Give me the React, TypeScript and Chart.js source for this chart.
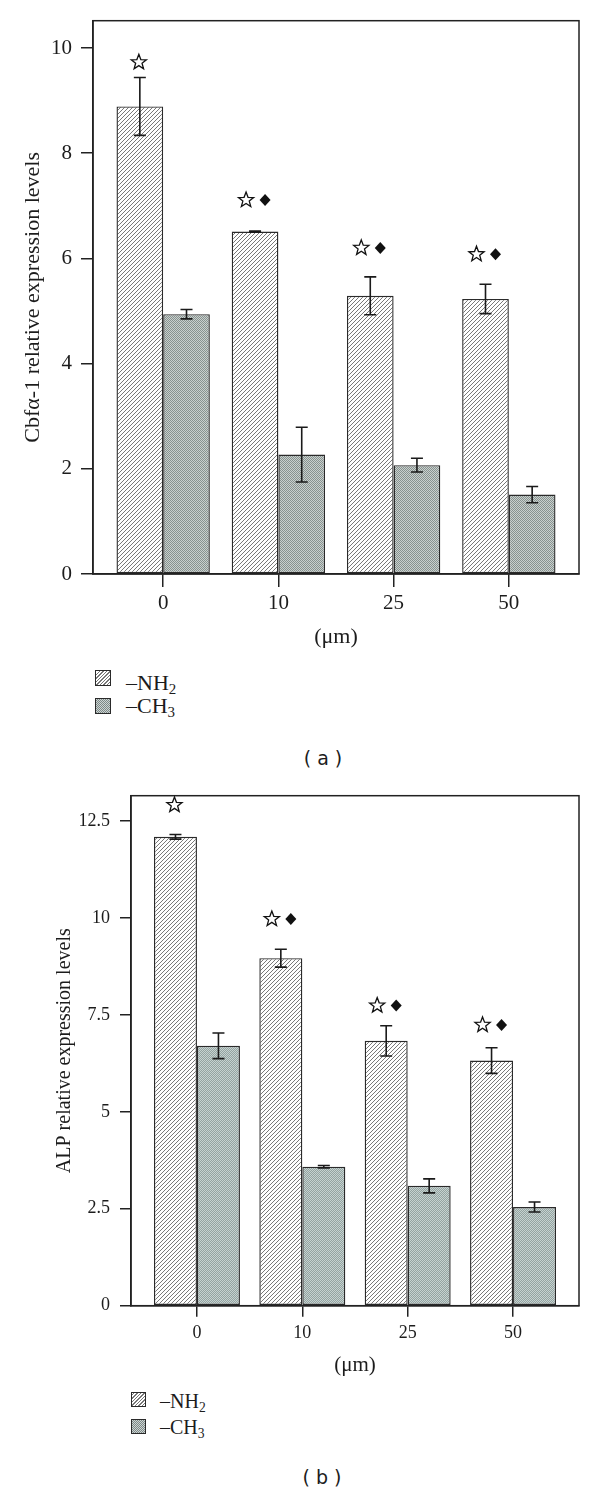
import React, { useEffect, useRef } from 'react';
import { Chart, registerables } from 'chart.js';

Chart.register(...registerables);

// ---------- data ----------
const doses = ['0', '10', '25', '50'];

const cbfNH2 = [8.89, 6.51, 5.29, 5.23];
const cbfNH2Err = [0.55, 0.01, 0.36, 0.28];
const cbfCH3 = [4.94, 2.27, 2.07, 1.51];
const cbfCH3Err = [0.09, 0.52, 0.13, 0.155];
const cbfMarkY = [9.73, 7.11, 6.2, 6.08];
const cbfMarkDiamond = [false, true, true, true];
const cbfYTicks = [0, 2, 4, 6, 8, 10];

const alpNH2 = [12.09, 8.96, 6.83, 6.32];
const alpNH2Err = [0.06, 0.23, 0.39, 0.33];
const alpCH3 = [6.7, 3.585, 3.09, 2.545];
const alpCH3Err = [0.33, 0.03, 0.18, 0.13];
const alpMarkY = [12.91, 9.97, 7.74, 7.24];
const alpMarkDiamond = [false, true, true, true];
const alpYTicks = [0, 2.5, 5, 7.5, 10, 12.5];

const SERIF = '"Liberation Serif", "Times New Roman", serif';
const SANS = '"DejaVu Sans", Verdana, sans-serif';
const INK = '#1c1c1c';

// ---------- plugins ----------
const framePlugin = {
  id: 'frame',
  afterDatasetsDraw(chart: any) {
    const { ctx, chartArea: a } = chart;
    ctx.save();
    ctx.strokeStyle = '#222';
    ctx.lineWidth = 1.5;
    ctx.strokeRect(a.left, a.top, a.right - a.left, a.bottom - a.top);
    ctx.restore();
  },
};

const errorBarPlugin = {
  id: 'errorBars',
  afterDatasetsDraw(chart: any, _args: any, opts: any) {
    const { ctx } = chart;
    const y = chart.scales.y;
    ctx.save();
    ctx.strokeStyle = '#1a1a1a';
    ctx.lineWidth = 1.6;
    chart.data.datasets.forEach((ds: any, di: number) => {
      const meta = chart.getDatasetMeta(di);
      const errs = opts.errors[di];
      meta.data.forEach((bar: any, i: number) => {
        const v = ds.data[i].y;
        const e = errs[i];
        const x = bar.x;
        const yt = y.getPixelForValue(v + e);
        const yb = y.getPixelForValue(v - e);
        const h = opts.capHalf;
        ctx.beginPath();
        ctx.moveTo(x, yt);
        ctx.lineTo(x, yb);
        ctx.moveTo(x - h, yt);
        ctx.lineTo(x + h, yt);
        ctx.moveTo(x - h, yb);
        ctx.lineTo(x + h, yb);
        ctx.stroke();
      });
    });
    ctx.restore();
  },
};

function drawStar(ctx: CanvasRenderingContext2D, cx: number, cy: number, r: number) {
  const inner = r * 0.42;
  ctx.beginPath();
  for (let k = 0; k < 10; k++) {
    const rad = k % 2 === 0 ? r : inner;
    const ang = -Math.PI / 2 + (k * Math.PI) / 5;
    const px = cx + rad * Math.cos(ang);
    const py = cy + rad * Math.sin(ang);
    if (k === 0) ctx.moveTo(px, py);
    else ctx.lineTo(px, py);
  }
  ctx.closePath();
  ctx.fillStyle = '#ffffff';
  ctx.fill();
  ctx.strokeStyle = '#111';
  ctx.lineWidth = 1.3;
  ctx.lineJoin = 'miter';
  ctx.stroke();
}

function drawDiamond(ctx: CanvasRenderingContext2D, cx: number, cy: number, hw: number, hh: number) {
  ctx.beginPath();
  ctx.moveTo(cx, cy - hh);
  ctx.lineTo(cx + hw, cy);
  ctx.lineTo(cx, cy + hh);
  ctx.lineTo(cx - hw, cy);
  ctx.closePath();
  ctx.fillStyle = '#111';
  ctx.fill();
}

const markerPlugin = {
  id: 'markers',
  afterDatasetsDraw(chart: any, _args: any, opts: any) {
    const { ctx } = chart;
    const y = chart.scales.y;
    const meta = chart.getDatasetMeta(0);
    ctx.save();
    meta.data.forEach((bar: any, i: number) => {
      const py = y.getPixelForValue(opts.ys[i]);
      const cx = bar.x;
      if (opts.diamond[i]) {
        drawStar(ctx, cx - opts.gapLeft, py, opts.starR);
        drawDiamond(ctx, cx + opts.gapRight, py, opts.diaW, opts.diaH);
      } else {
        drawStar(ctx, cx - 1, py, opts.starR);
      }
    });
    ctx.restore();
  },
};

// ---------- patterns ----------
function hatchPattern(ctx: CanvasRenderingContext2D, s: number, color: string) {
  const c = document.createElement('canvas');
  c.width = s;
  c.height = s;
  const g = c.getContext('2d')!;
  g.fillStyle = '#ffffff';
  g.fillRect(0, 0, s, s);
  g.strokeStyle = color;
  g.lineWidth = 0.9;
  g.beginPath();
  g.moveTo(-1, s + 1);
  g.lineTo(s + 1, -1);
  g.moveTo(-1, 1);
  g.lineTo(1, -1);
  g.moveTo(s - 1, s + 1);
  g.lineTo(s + 1, s - 1);
  g.stroke();
  return ctx.createPattern(c, 'repeat')!;
}

function checkerPattern(ctx: CanvasRenderingContext2D, c1: string, c2: string) {
  const c = document.createElement('canvas');
  c.width = 2;
  c.height = 2;
  const g = c.getContext('2d')!;
  g.fillStyle = c2;
  g.fillRect(0, 0, 2, 2);
  g.fillStyle = c1;
  g.fillRect(0, 0, 1, 1);
  g.fillRect(1, 1, 1, 1);
  return ctx.createPattern(c, 'repeat')!;
}

// ---------- panel ----------
type PanelCfg = {
  nh2: number[];
  nh2Err: number[];
  ch3: number[];
  ch3Err: number[];
  markY: number[];
  markDiamond: boolean[];
  yTicks: number[];
  yMax: number;
  xPad: number;
  yTitle: string;
  top: number;
  height: number;
  padTop: number;
  padRight: number;
  yWidth: number;
  xHeight: number;
  tickFont: number;
  yTitleFont: number;
  xTitleFont: number;
  yTickLen: number;
  yTickPad: number;
  xTickLen: number;
  xTickPad: number;
  yTitlePad: number;
  xTitlePad: number;
  capHalf: number;
  catPct: number;
  ch3Colors: [string, string];
};

function BarPanel({ cfg }: { cfg: PanelCfg }) {
  const ref = useRef<HTMLCanvasElement | null>(null);

  useEffect(() => {
    const canvas = ref.current;
    if (!canvas) return;
    const ctx = canvas.getContext('2d')!;
    const hatch = hatchPattern(ctx, 4, '#6a6a6a');
    const checker = checkerPattern(ctx, cfg.ch3Colors[0], cfg.ch3Colors[1]);

    const chart = new Chart(canvas, {
      type: 'bar',
      data: {
        datasets: [
          {
            label: '–NH2',
            data: cfg.nh2.map((v, i) => ({ x: i, y: v })),
            backgroundColor: hatch,
            borderColor: '#2a2a2a',
            borderWidth: 1.4,
            borderSkipped: false,
            categoryPercentage: cfg.catPct,
            barPercentage: 1,
          },
          {
            label: '–CH3',
            data: cfg.ch3.map((v, i) => ({ x: i, y: v })),
            backgroundColor: checker,
            borderColor: '#2a2a2a',
            borderWidth: 1.4,
            borderSkipped: false,
            categoryPercentage: cfg.catPct,
            barPercentage: 1,
          },
        ],
      } as any,
      options: {
        responsive: false,
        maintainAspectRatio: false,
        animation: false,
        layout: { padding: { top: cfg.padTop, right: cfg.padRight, left: 0, bottom: 0 } },
        plugins: {
          legend: { display: false },
          tooltip: { enabled: false },
          errorBars: { errors: [cfg.nh2Err, cfg.ch3Err], capHalf: cfg.capHalf },
          markers: {
            ys: cfg.markY,
            diamond: cfg.markDiamond,
            starR: 8,
            diaW: 5.5,
            diaH: 6,
            gapLeft: 9,
            gapRight: 10,
          },
        } as any,
        scales: {
          x: {
            type: 'linear',
            min: -cfg.xPad,
            max: doses.length - 1 + cfg.xPad,
            offset: false,
            afterBuildTicks: (s: any) => {
              s.ticks = doses.map((_, i) => ({ value: i }));
            },
            afterFit: (s: any) => {
              s.height = cfg.xHeight;
              s.paddingLeft = 0;
              s.paddingRight = 0;
            },
            ticks: {
              autoSkip: false,
              maxRotation: 0,
              padding: cfg.xTickPad,
              color: INK,
              font: { family: SERIF, size: cfg.tickFont, lineHeight: 1 },
              callback: (v: any) => doses[v] ?? '',
            },
            grid: {
              offset: false,
              drawOnChartArea: false,
              drawTicks: true,
              tickLength: cfg.xTickLen,
              color: '#222',
              lineWidth: 1.5,
            },
            border: { display: true, color: '#222', width: 1.5 },
            title: {
              display: true,
              text: '(μm)',
              color: INK,
              font: { family: SERIF, size: cfg.xTitleFont, lineHeight: 1.2 },
              padding: { top: 0, bottom: cfg.xTitlePad },
            },
          },
          y: {
            type: 'linear',
            min: 0,
            max: cfg.yMax,
            afterBuildTicks: (s: any) => {
              s.ticks = cfg.yTicks.map((v) => ({ value: v }));
            },
            afterFit: (s: any) => {
              s.width = cfg.yWidth;
              s.paddingTop = 0;
              s.paddingBottom = 0;
            },
            ticks: {
              padding: cfg.yTickPad,
              color: INK,
              font: { family: SERIF, size: cfg.tickFont, lineHeight: 1 },
              callback: (v: any) => String(v),
            },
            grid: {
              drawOnChartArea: false,
              drawTicks: true,
              tickLength: cfg.yTickLen,
              color: '#222',
              lineWidth: 1.5,
            },
            border: { display: true, color: '#222', width: 1.5 },
            title: {
              display: true,
              text: cfg.yTitle,
              color: INK,
              font: { family: SERIF, size: cfg.yTitleFont, lineHeight: 1.2 },
              padding: { top: cfg.yTitlePad, bottom: 0 },
            },
          },
        },
      } as any,
      plugins: [framePlugin, errorBarPlugin, markerPlugin],
    });
    return () => chart.destroy();
  }, [cfg]);

  return (
    <canvas
      ref={ref}
      width={600}
      height={cfg.height}
      style={{ position: 'absolute', left: 0, top: cfg.top, width: 600, height: cfg.height }}
    />
  );
}

const panelA: PanelCfg = {
  nh2: cbfNH2,
  nh2Err: cbfNH2Err,
  ch3: cbfCH3,
  ch3Err: cbfCH3Err,
  markY: cbfMarkY,
  markDiamond: cbfMarkDiamond,
  yTicks: cbfYTicks,
  yMax: 10.52,
  xPad: 0.609,
  yTitle: 'Cbfα-1 relative expression levels',
  top: 0,
  height: 660,
  padTop: 20.7,
  padRight: 21,
  yWidth: 93,
  xHeight: 86,
  tickFont: 21,
  yTitleFont: 22,
  xTitleFont: 22,
  yTickLen: 12,
  yTickPad: 9,
  xTickLen: 13,
  xTickPad: 5.5,
  yTitlePad: 20,
  xTitlePad: 9.8,
  capHalf: 6,
  catPct: 0.81,
  ch3Colors: ['#87928f', '#c9d0ce'],
};

const panelB: PanelCfg = {
  nh2: alpNH2,
  nh2Err: alpNH2Err,
  ch3: alpCH3,
  ch3Err: alpCH3Err,
  markY: alpMarkY,
  markDiamond: alpMarkDiamond,
  yTicks: alpYTicks,
  yMax: 13.15,
  xPad: 0.626,
  yTitle: 'ALP relative expression levels',
  top: 775,
  height: 610,
  padTop: 20.7,
  padRight: 21,
  yWidth: 131,
  xHeight: 79.3,
  tickFont: 18,
  yTitleFont: 20,
  xTitleFont: 21,
  yTickLen: 11,
  yTickPad: 10,
  xTickLen: 11,
  xTickPad: 7.3,
  yTitlePad: 53,
  xTitlePad: 7.4,
  capHalf: 6,
  catPct: 0.816,
  ch3Colors: ['#93a3a1', '#c6d2d0'],
};

// ---------- legend & captions (HTML text) ----------
const hatchCss = 'repeating-linear-gradient(-45deg, #ffffff 0px, #ffffff 1.6px, #777 1.6px, #777 2.5px)';
const checkerCss = 'repeating-conic-gradient(#7c8886 0% 25%, #cdd4d3 0% 50%) 0 0 / 2px 2px';

function Swatch({ left, top, size, bg }: { left: number; top: number; size: number; bg: string }) {
  return (
    <div
      style={{
        position: 'absolute',
        left,
        top,
        width: size,
        height: size,
        boxSizing: 'border-box',
        border: '1.4px solid #2a2a2a',
        background: bg,
      }}
    />
  );
}

function LegendText({ left, capCenter, size, base, sub }: { left: number; capCenter: number; size: number; base: string; sub: string }) {
  return (
    <div
      style={{
        position: 'absolute',
        left,
        top: capCenter - size / 2,
        fontFamily: SERIF,
        fontSize: size,
        lineHeight: `${size}px`,
        color: INK,
        whiteSpace: 'nowrap',
      }}
    >
      {base}
      <sub style={{ fontSize: '0.68em', verticalAlign: '-0.28em', lineHeight: 0 }}>{sub}</sub>
    </div>
  );
}

function Caption({ cx, cy, text }: { cx: number; cy: number; text: string }) {
  return (
    <div
      style={{
        position: 'absolute',
        left: cx - 100,
        width: 200,
        top: cy - 9.5,
        textAlign: 'center',
        fontFamily: SANS,
        fontSize: 19,
        lineHeight: '19px',
        color: INK,
        whiteSpace: 'pre',
      }}
    >
      {text}
    </div>
  );
}

export default function App() {
  return (
    <div
      style={{
        position: 'absolute',
        left: 0,
        top: 0,
        width: 600,
        height: 1492,
        background: '#ffffff',
        overflow: 'hidden',
      }}
    >
      <BarPanel cfg={panelA} />
      <BarPanel cfg={panelB} />

      <Swatch left={95} top={670} size={16} bg={hatchCss} />
      <Swatch left={95} top={698} size={16} bg={checkerCss} />
      <LegendText left={126} capCenter={683} size={22} base="–NH" sub="2" />
      <LegendText left={126} capCenter={706} size={22} base="–CH" sub="3" />
      <Caption cx={323} cy={758} text="( a )" />

      <Swatch left={131} top={1392} size={15} bg={hatchCss} />
      <Swatch left={131} top={1418.5} size={15} bg={checkerCss} />
      <LegendText left={160} capCenter={1400.5} size={20} base="–NH" sub="2" />
      <LegendText left={160} capCenter={1426.5} size={20} base="–CH" sub="3" />
      <Caption cx={322} cy={1477} text="( b )" />
    </div>
  );
}
